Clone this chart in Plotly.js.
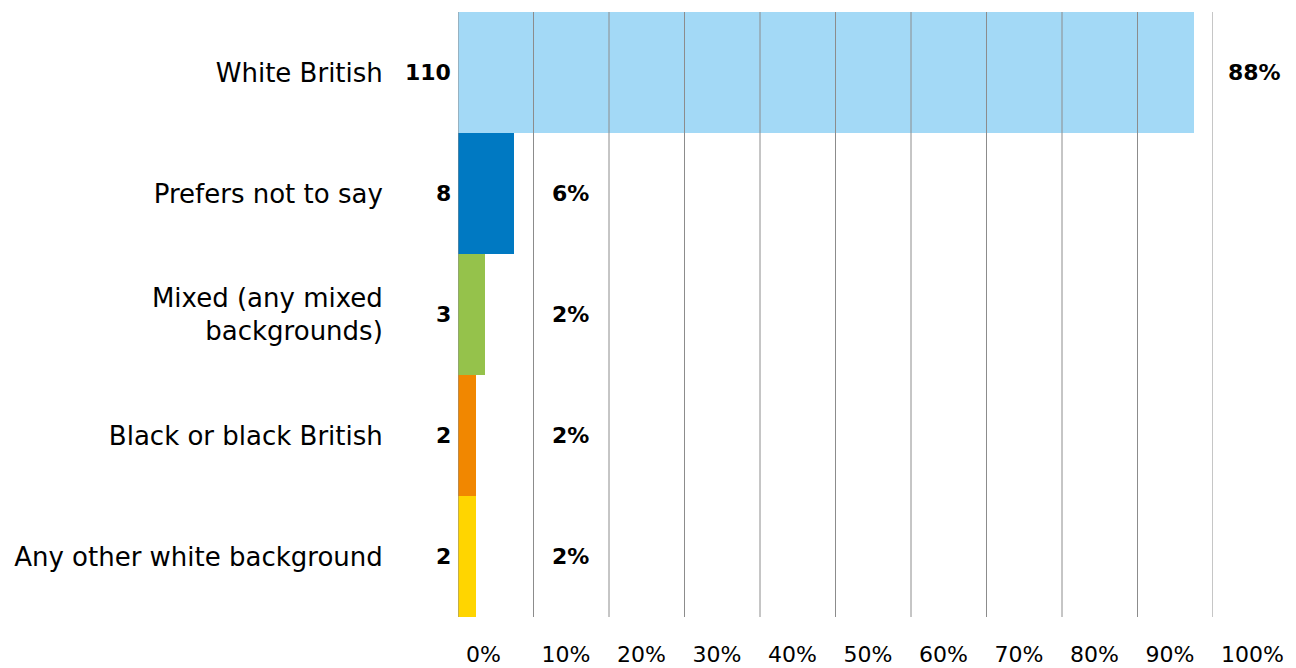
<!DOCTYPE html>
<html>
<head>
<meta charset="utf-8">
<script src="https://cdn.plot.ly/plotly-3.0.1.min.js"></script>
<style>html,body{margin:0;padding:0;background:#fff;}#chart{width:1296px;height:668px;}</style>
</head>
<body>
<div id="chart"></div>
<script>
// Data
var categories = ["White British", "Prefers not to say", "Mixed (any mixed<br>backgrounds)", "Black or black British", "Any other white background"];
var barValues = [97.5, 7.4, 3.6, 2.4, 2.4];
var counts = ["110", "8", "3", "2", "2"];
var percentLabels = ["88%", "6%", "2%", "2%", "2%"];
var barColors = ["#a3d9f6", "#0079c2", "#95c24b", "#f18700", "#ffd500"];
var tickVals = [0, 10, 20, 30, 40, 50, 60, 70, 80, 90, 100];
var tickLabels = ["0%", "10%", "20%", "30%", "40%", "50%", "60%", "70%", "80%", "90%", "100%"];

var FONT = "DejaVu Sans, sans-serif";

var trace = {
  type: "bar",
  orientation: "h",
  y: categories,
  x: barValues,
  marker: { color: barColors, line: { width: 0 } },
  hoverinfo: "none"
};

var annotations = [];
categories.forEach(function (c, i) {
  annotations.push({
    xref: "paper", yref: "y", x: 0, y: c,
    xanchor: "right", yanchor: "middle", xshift: -5,
    text: "<b>" + counts[i] + "</b>", showarrow: false,
    font: { family: FONT, size: 22, color: "#000" }
  });
  var big = barValues[i] > 50;
  annotations.push({
    xref: "x", yref: "y", x: big ? 100 : 10, y: c,
    xanchor: "left", yanchor: "middle", xshift: big ? 13 : 16,
    text: "<b>" + percentLabels[i] + "</b>", showarrow: false,
    font: { family: FONT, size: 22, color: "#000" }
  });
});

// vertical grid lines drawn above the bars, at the tick values
var shapes = tickVals.map(function (v) {
  return {
    type: "line", layer: "above", xref: "x", yref: "paper",
    x0: v, x1: v, y0: 0, y1: 1,
    line: { color: "#8c8c8c", width: 1 }
  };
});

var layout = {
  width: 1296, height: 668,
  margin: { l: 458, r: 83, t: 12, b: 51 },
  paper_bgcolor: "#fff", plot_bgcolor: "#fff",
  showlegend: false,
  bargap: 0,
  font: { family: FONT, color: "#000" },
  xaxis: {
    range: [0, 100], tickvals: tickVals, ticktext: tickLabels,
    showgrid: false, zeroline: false, showline: false, ticks: "",
    ticklabelposition: "outside right", ticklabelshift: 8, ticklabelstandoff: 22,
    tickfont: { family: FONT, size: 22, color: "#000" },
    fixedrange: true
  },
  yaxis: {
    type: "category", autorange: "reversed",
    showgrid: false, zeroline: false, showline: false,
    ticks: "outside", ticklen: 69, tickcolor: "rgba(0,0,0,0)",
    tickfont: { family: FONT, size: 26, color: "#000" },
    fixedrange: true
  },
  shapes: shapes,
  annotations: annotations
};

Plotly.newPlot("chart", [trace], layout, { displayModeBar: false, staticPlot: true });
</script>
</body>
</html>
